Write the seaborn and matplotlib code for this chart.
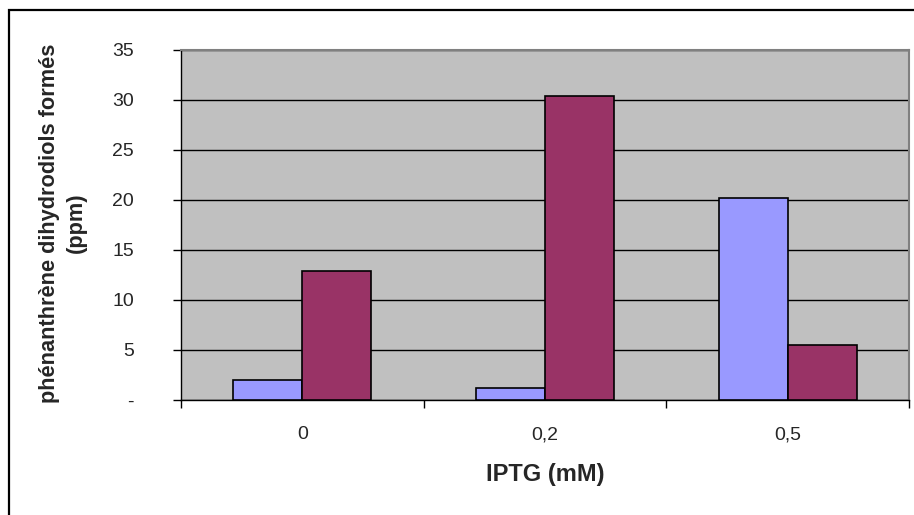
import pandas as pd
import seaborn as sns
import matplotlib.pyplot as plt
from matplotlib.patches import Rectangle
from matplotlib.ticker import FuncFormatter, FixedLocator

# values (ppm)
iptg = ["0", "0,2", "0,5"]
serie_1 = [2.0, 1.25, 20.2]
serie_2 = [12.9, 30.4, 5.5]
y_ticks = [0, 5, 10, 15, 20, 25, 30, 35]

df = pd.DataFrame({
    "IPTG": iptg * 2,
    "valeur": serie_1 + serie_2,
    "serie": ["Série 1"] * 3 + ["Série 2"] * 3,
})

sns.set_style("white")
plt.rcParams["font.family"] = ["Liberation Sans", "DejaVu Sans"]

fig = plt.figure(figsize=(9.14, 5.15), dpi=100)
ax = fig.add_axes([181 / 914, 115 / 515, 728 / 914, 350 / 515])
ax.set_facecolor("#C0C0C0")

sns.barplot(data=df, x="IPTG", y="valeur", hue="serie",
            palette=["#9999FF", "#993366"], saturation=1, width=0.57,
            gap=0, edgecolor="black", linewidth=1.2, legend=False, ax=ax,
            zorder=3)

ax.set_ylim(0, 35)
ax.set_xlim(-0.5, 2.5)
ax.set_yticks(y_ticks)
ax.yaxis.set_major_formatter(
    FuncFormatter(lambda v, p: "-" if v == 0 else f"{v:.0f}"))
ax.grid(axis="y", color="black", linewidth=1, zorder=1)
ax.set_axisbelow(True)

# ticks on the x axis sit between categories
ax.xaxis.set_minor_locator(FixedLocator([-0.5, 0.5, 1.5, 2.5]))
ax.tick_params(axis="x", which="major", length=0, pad=19, labelsize=14)
ax.tick_params(axis="x", which="minor", length=6, width=1, color="black",
               direction="out", bottom=True)
ax.tick_params(axis="y", length=6, width=1, color="black", direction="out",
               left=True, pad=28, labelsize=14)

for side in ["top", "right"]:
    ax.spines[side].set_color("#808080")
    ax.spines[side].set_linewidth(1.5)
for side in ["left", "bottom"]:
    ax.spines[side].set_color("black")
    ax.spines[side].set_linewidth(1)

ax.set_xlabel("")
ax.set_ylabel("")
fig.text(63 / 914, 1 - 223 / 515, "phénanthrène dihydrodiols formés\n(ppm)",
         rotation=90, ha="center", va="center", fontsize=15.7,
         fontweight="bold", linespacing=1.35)
fig.text(545 / 914, 1 - 475 / 515, "IPTG (mM)", ha="center", va="center",
         fontsize=17, fontweight="bold")

# outer chart frame
fig.patches.append(Rectangle((9 / 914, -0.1), 1.2, 1 - 10 / 515 + 0.1,
                             transform=fig.transFigure, fill=False,
                             edgecolor="black", linewidth=1.6))

fig.savefig("out.png", dpi=100)
